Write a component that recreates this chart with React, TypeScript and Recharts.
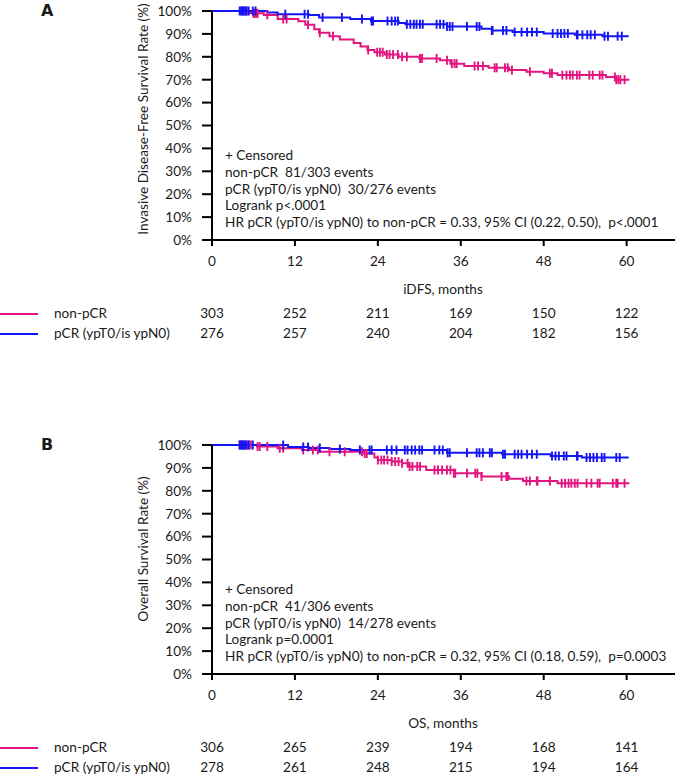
import React from "react";
import { ComposedChart, Line, Scatter, XAxis, YAxis } from "recharts";

// x ticks (months) and y ticks (survival fraction)
const MONTH_TICKS = [0, 12, 24, 36, 48, 60];
const RATE_TICKS = [0, 0.1, 0.2, 0.3, 0.4, 0.5, 0.6, 0.7, 0.8, 0.9, 1];

// Panel A – iDFS
const idfsNonPcrTimes = [0, 5.5, 7.5, 9.5, 12.5, 13.5, 14.8, 15.5, 17, 18.5, 20.5, 21.5, 22.5, 23.5, 25, 27, 30, 33, 34.5, 36.5, 40, 43, 45.5, 48, 50, 57, 58.5, 60.4];
const idfsNonPcrSurv = [1, 0.99, 0.983, 0.965, 0.955, 0.94, 0.92, 0.905, 0.89, 0.876, 0.86, 0.845, 0.83, 0.82, 0.81, 0.8, 0.793, 0.785, 0.77, 0.76, 0.752, 0.742, 0.735, 0.728, 0.72, 0.712, 0.7, 0.7];
const idfsNonPcrCensored = [4.5, 5.0, 6.0, 6.2, 6.4, 6.6, 8.0, 10.3, 10.8, 13.9, 15.6, 17.5, 22.6, 23.9, 24.3, 24.7, 25.3, 25.7, 26.2, 26.9, 27.5, 28.2, 30.1, 30.4, 32.5, 34.0, 34.7, 35.1, 35.4, 38.0, 38.5, 39.2, 40.9, 41.2, 42.4, 42.8, 43.4, 46.0, 48.9, 49.2, 50.7, 51.3, 51.8, 52.2, 52.8, 53.2, 54.6, 55.1, 56.1, 56.5, 58.3, 58.5, 58.8, 59.1, 59.7];

const idfsPcrTimes = [0, 8, 9.5, 14, 15.5, 20, 23, 27, 28, 34, 39, 40.5, 43.5, 48, 52.5, 56.5, 60.3];
const idfsPcrSurv = [1, 0.993, 0.986, 0.982, 0.972, 0.965, 0.956, 0.948, 0.942, 0.932, 0.922, 0.915, 0.908, 0.902, 0.896, 0.89, 0.89];
const idfsPcrCensored = [4.0, 4.2, 4.4, 4.6, 4.8, 5.0, 5.3, 5.9, 6.3, 10.6, 13.4, 13.9, 16.0, 18.8, 21.7, 23.1, 23.3, 25.4, 26.0, 26.5, 26.9, 28.2, 28.7, 29.2, 29.6, 30.1, 30.5, 32.5, 33.0, 33.5, 34.0, 34.4, 34.8, 36.9, 38.3, 38.7, 40.5, 40.6, 42.1, 42.6, 43.8, 44.8, 45.6, 46.3, 47.0, 49.3, 50.0, 50.5, 51.0, 51.5, 52.8, 52.9, 53.6, 54.3, 54.8, 55.4, 56.8, 57.3, 58.7, 59.3];

// Panel B – OS
const osNonPcrTimes = [0, 6.5, 9.5, 13, 15.5, 22, 23.5, 24, 26, 27.5, 28.5, 31, 35, 39, 43, 45, 50, 60.4];
const osNonPcrSurv = [1, 0.993, 0.986, 0.978, 0.971, 0.963, 0.945, 0.935, 0.928, 0.92, 0.906, 0.891, 0.877, 0.862, 0.853, 0.843, 0.833, 0.833];
const osNonPcrCensored = [4.0, 4.3, 4.6, 5.0, 5.3, 5.6, 6.6, 6.9, 8.0, 9.8, 10.3, 13.2, 14.6, 15.3, 17.0, 19.2, 21.7, 22.1, 22.4, 24.0, 24.5, 24.9, 25.4, 26.0, 26.5, 27.0, 27.5, 28.3, 28.6, 29.0, 29.7, 30.1, 32.2, 32.7, 33.3, 34.0, 34.5, 35.0, 35.2, 36.9, 38.1, 38.4, 39.0, 41.9, 42.6, 42.8, 45.5, 46.0, 47.0, 47.1, 48.9, 50.6, 51.1, 51.6, 52.0, 52.5, 52.9, 54.2, 54.9, 55.8, 56.1, 58.0, 58.5, 58.7, 59.7];

const osPcrTimes = [0, 11, 14, 17, 20, 34, 42, 49, 53.5, 60.3];
const osPcrSurv = [1, 0.991, 0.987, 0.983, 0.978, 0.966, 0.96, 0.952, 0.945, 0.945];
const osPcrCensored = [4.0, 4.2, 4.4, 4.6, 4.8, 5.0, 5.3, 5.9, 10.3, 13.2, 13.9, 15.6, 18.5, 21.4, 22.8, 23.1, 25.3, 26.0, 26.7, 27.9, 28.3, 28.9, 29.4, 30.0, 30.4, 32.2, 32.9, 33.4, 34.1, 34.4, 36.9, 38.3, 38.7, 39.2, 40.2, 40.5, 42.1, 42.4, 43.8, 44.3, 44.8, 45.6, 46.3, 47.0, 49.2, 49.7, 50.2, 50.9, 51.3, 52.8, 52.9, 54.2, 54.7, 55.2, 55.7, 56.4, 56.8, 58.5, 59.0];

// numbers at risk
const idfsAtRiskNonPcr = [303, 252, 211, 169, 150, 122];
const idfsAtRiskPcr = [276, 257, 240, 204, 182, 156];
const osAtRiskNonPcr = [306, 265, 239, 194, 168, 141];
const osAtRiskPcr = [278, 261, 248, 215, 194, 164];

const idfsNotes = [
  "+ Censored",
  "non-pCR  81/303 events",
  "pCR (ypT0/is ypN0)  30/276 events",
  "Logrank p<.0001",
  "HR pCR (ypT0/is ypN0) to non-pCR = 0.33, 95% CI (0.22, 0.50),  p<.0001",
];
const osNotes = [
  "+ Censored",
  "non-pCR  41/306 events",
  "pCR (ypT0/is ypN0)  14/278 events",
  "Logrank p=0.0001",
  "HR pCR (ypT0/is ypN0) to non-pCR = 0.32, 95% CI (0.18, 0.59),  p=0.0003",
];

const PINK = "#E2157F";
const BLUE = "#1414F5";
const INK = "#1a1a1a";
const FONT = "Lato, 'Open Sans', sans-serif";
const FS = 13.6;

const W = 675;
const PLOT_LEFT = 212;
const X_MAX = 67;

const toCurve = (times: number[], surv: number[]) =>
  times.map((t, i) => ({ t, s: surv[i] }));

// survival value of the step curve at time t (for placing censor ticks)
const survAt = (times: number[], surv: number[], t: number) => {
  let s = surv[0];
  for (let i = 0; i < times.length; i++) if (times[i] <= t) s = surv[i];
  return s;
};

const toCensor = (cens: number[], times: number[], surv: number[]) =>
  cens.map((t) => ({ t, s: survAt(times, surv, t) }));

const tickShape = (color: string) => (p: any) =>
  (
    <line
      x1={p.cx}
      x2={p.cx}
      y1={p.cy - 4.5}
      y2={p.cy + 4.5}
      stroke={color}
      strokeWidth={1.9}
    />
  );

const monthX = (m: number) => PLOT_LEFT + (m / X_MAX) * (W - PLOT_LEFT);

type PanelProps = {
  top: number;
  letter: string;
  yTitle: string;
  yTitleCenter: number;
  xTitle: string;
  nonPcr: { times: number[]; surv: number[]; cens: number[] };
  pcr: { times: number[]; surv: number[]; cens: number[] };
  notes: string[];
  riskNonPcr: number[];
  riskPcr: number[];
};

function Text({ x, y, children, style }: any) {
  return (
    <div
      style={{
        position: "absolute",
        left: x,
        top: y - 10,
        height: 18,
        lineHeight: "18px",
        whiteSpace: "pre",
        fontSize: FS,
        color: INK,
        ...style,
      }}
    >
      {children}
    </div>
  );
}

function Panel(p: PanelProps) {
  const t = p.top;
  return (
    <>
      <div style={{ position: "absolute", left: 0, top: t }}>
        <ComposedChart
          width={W}
          height={270}
          margin={{ top: 11, right: 0, bottom: 0, left: PLOT_LEFT - 60 }}
        >
          <XAxis
            type="number"
            dataKey="t"
            domain={[0, X_MAX]}
            ticks={MONTH_TICKS}
            allowDataOverflow
            height={30}
            stroke="#000"
            strokeWidth={2}
            tickSize={6}
            tickMargin={10}
            tick={{ fill: INK, fontSize: FS, fontFamily: FONT }}
          />
          <YAxis
            type="number"
            domain={[0, 1]}
            ticks={RATE_TICKS}
            width={60}
            stroke="#000"
            strokeWidth={2}
            tickSize={10}
            tickMargin={10}
            tick={{ fill: INK, fontSize: FS, fontFamily: FONT }}
            tickFormatter={(v: number) => `${Math.round(v * 100)}%`}
          />
          <Line
            data={toCurve(p.nonPcr.times, p.nonPcr.surv)}
            dataKey="s"
            type="stepAfter"
            stroke={PINK}
            strokeWidth={2}
            dot={false}
            activeDot={false}
            isAnimationActive={false}
          />
          <Line
            data={toCurve(p.pcr.times, p.pcr.surv)}
            dataKey="s"
            type="stepAfter"
            stroke={BLUE}
            strokeWidth={2}
            dot={false}
            activeDot={false}
            isAnimationActive={false}
          />
          <Scatter
            data={toCensor(p.nonPcr.cens, p.nonPcr.times, p.nonPcr.surv)}
            dataKey="s"
            shape={tickShape(PINK)}
            isAnimationActive={false}
          />
          <Scatter
            data={toCensor(p.pcr.cens, p.pcr.times, p.pcr.surv)}
            dataKey="s"
            shape={tickShape(BLUE)}
            isAnimationActive={false}
          />
        </ComposedChart>
      </div>

      <Text
        x={41}
        y={t + 12}
        style={{ fontWeight: 900, fontSize: 16, fontFamily: "'DejaVu Sans', sans-serif" }}
      >
        {p.letter}
      </Text>

      <div
        style={{
          position: "absolute",
          left: 143,
          top: t + p.yTitleCenter,
          transform: "translate(-50%, -50%) rotate(-90deg)",
          whiteSpace: "nowrap",
          fontSize: FS,
          color: INK,
        }}
      >
        {p.yTitle}
      </div>

      {p.notes.map((n, i) => (
        <Text key={n} x={225} y={t + 156 + i * 16.8}>
          {n}
        </Text>
      ))}

      <Text x={0} y={t + 290} style={{ width: 886, textAlign: "center" }}>
        {p.xTitle}
      </Text>

      <div style={{ position: "absolute", left: 0, top: t + 313, width: 38, height: 2, background: PINK }} />
      <div style={{ position: "absolute", left: 0, top: t + 333, width: 38, height: 2, background: BLUE }} />
      <Text x={54} y={t + 314}>non-pCR</Text>
      <Text x={54} y={t + 334}>pCR (ypT0/is ypN0)</Text>
      {MONTH_TICKS.map((m, i) => (
        <React.Fragment key={m}>
          <Text x={monthX(m) - 20} y={t + 314} style={{ width: 40, textAlign: "center" }}>
            {p.riskNonPcr[i]}
          </Text>
          <Text x={monthX(m) - 20} y={t + 334} style={{ width: 40, textAlign: "center" }}>
            {p.riskPcr[i]}
          </Text>
        </React.Fragment>
      ))}
    </>
  );
}

export default function App() {
  return (
    <div
      style={{
        position: "absolute",
        left: 0,
        top: 0,
        width: W,
        height: 777,
        background: "#fff",
        fontFamily: FONT,
        overflow: "hidden",
      }}
    >
      <Panel
        top={0}
        letter="A"
        yTitle="Invasive Disease-Free Survival Rate (%)"
        yTitleCenter={119}
        xTitle="iDFS, months"
        nonPcr={{ times: idfsNonPcrTimes, surv: idfsNonPcrSurv, cens: idfsNonPcrCensored }}
        pcr={{ times: idfsPcrTimes, surv: idfsPcrSurv, cens: idfsPcrCensored }}
        notes={idfsNotes}
        riskNonPcr={idfsAtRiskNonPcr}
        riskPcr={idfsAtRiskPcr}
      />
      <Panel
        top={434}
        letter="B"
        yTitle="Overall Survival Rate (%)"
        yTitleCenter={115}
        xTitle="OS, months"
        nonPcr={{ times: osNonPcrTimes, surv: osNonPcrSurv, cens: osNonPcrCensored }}
        pcr={{ times: osPcrTimes, surv: osPcrSurv, cens: osPcrCensored }}
        notes={osNotes}
        riskNonPcr={osAtRiskNonPcr}
        riskPcr={osAtRiskPcr}
      />
    </div>
  );
}
